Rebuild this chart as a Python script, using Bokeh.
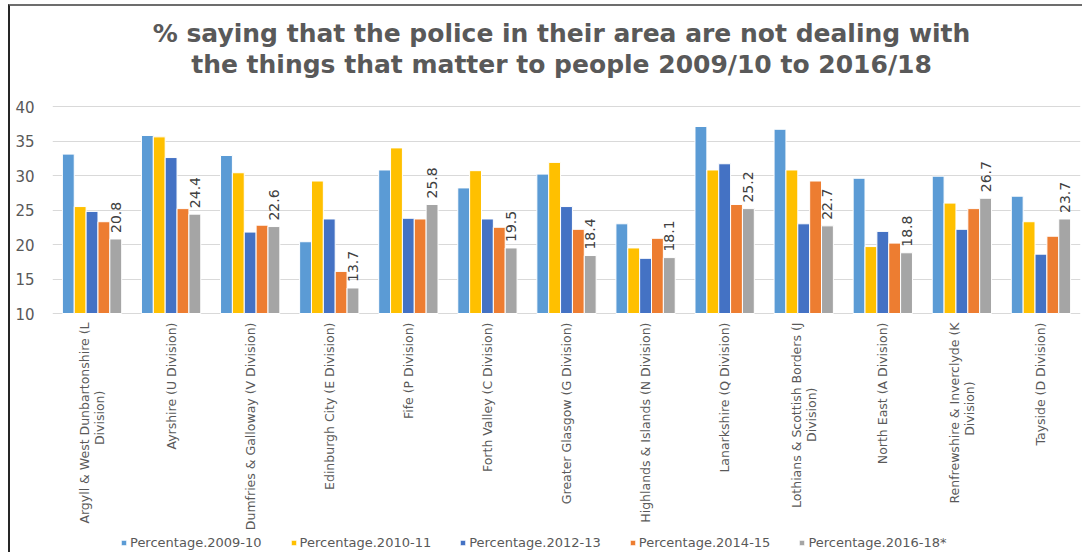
import math
from bokeh.plotting import figure
from bokeh.models import ColumnDataSource, FactorRange, Legend, LegendItem, FixedTicker, Range1d
from bokeh.transform import dodge
from bokeh.core.properties import value
from bokeh.embed import file_html
from bokeh.resources import INLINE

title_lines = ["% saying that the police in their area are not dealing with",
               "the things that matter to people 2009/10 to 2016/18"]
categories = [
    "Argyll & West Dunbartonshire (L\nDivision)",
    "Ayrshire (U Division)",
    "Dumfries & Galloway (V Division)",
    "Edinburgh City (E Division)",
    "Fife (P Division)",
    "Forth Valley (C Division)",
    "Greater Glasgow (G Division)",
    "Highlands & Islands (N Division)",
    "Lanarkshire (Q Division)",
    "Lothians & Scottish Borders (J\nDivision)",
    "North East (A Division)",
    "Renfrewshire & Inverclyde (K\nDivision)",
    "Tayside (D Division)",
]
series_names = ["Percentage.2009-10", "Percentage.2010-11", "Percentage.2012-13",
                "Percentage.2014-15", "Percentage.2016-18*"]
pct_2009_10 = [33.1, 35.8, 32.9, 20.4, 30.8, 28.2, 30.2, 23.0, 37.1, 36.7, 29.6, 29.9, 27.0]
pct_2010_11 = [25.5, 35.6, 30.4, 29.2, 34.0, 30.7, 31.9, 19.5, 30.8, 30.8, 19.7, 26.0, 23.3]
pct_2012_13 = [24.8, 32.6, 21.8, 23.7, 23.8, 23.7, 25.5, 18.0, 31.7, 23.0, 21.9, 22.2, 18.6]
pct_2014_15 = [23.3, 25.2, 22.8, 16.1, 23.7, 22.5, 22.2, 20.9, 25.8, 29.2, 20.2, 25.2, 21.2]
pct_2016_18 = [20.8, 24.4, 22.6, 13.7, 25.8, 19.5, 18.4, 18.1, 25.2, 22.7, 18.8, 26.7, 23.7]
y_ticks = [10, 15, 20, 25, 30, 35, 40]

colors = ["#5B9BD5", "#FFC000", "#4472C4", "#ED7D31", "#A5A5A5"]
cols = ["s0", "s1", "s2", "s3", "s4"]
all_series = [pct_2009_10, pct_2010_11, pct_2012_13, pct_2014_15, pct_2016_18]

data = {"cat": categories}
for c, s in zip(cols, all_series):
    data[c] = s
data["lbl"] = ["%.1f" % v for v in pct_2016_18]
source = ColumnDataSource(data)

# layout: the value axis (10..40) occupies 207 px; the frame is extended above
# and below so that the title, category labels and legend can sit inside it.
FRAME_H = 546
AXIS_PX = 207
TOP_PX = 100
ppu = AXIS_PX / (y_ticks[-1] - y_ticks[0])
y_lo = y_ticks[0] - (FRAME_H - TOP_PX - AXIS_PX) / ppu
y_hi = y_ticks[-1] + TOP_PX / ppu

p = figure(x_range=FactorRange(*categories), y_range=Range1d(y_lo, y_hi),
           frame_width=1028, frame_height=FRAME_H, output_backend="svg", toolbar_location=None,
           min_border_left=42, min_border_right=2, min_border_top=0, min_border_bottom=0)
p.styles = {"margin-left": "8px", "margin-top": "4px",
            "border-top": "2px solid #6d6d6d", "border-left": "2px solid #262626"}

offsets = [-0.3, -0.15, 0.0, 0.15, 0.3]
renderers = []
for c, col, off in zip(cols, colors, offsets):
    r = p.vbar(x=dodge("cat", off, range=p.x_range), top=c, bottom=y_ticks[0], width=0.15,
               source=source, fill_color=col, line_color="white", line_width=1)
    renderers.append(r)

# data labels on the last series
p.text(x=dodge("cat", 0.3, range=p.x_range), y="s4", text="lbl", source=source,
       angle=math.pi / 2, text_align="left", text_baseline="middle", y_offset=-6,
       text_font=value("DejaVu Sans"), text_font_size="14px", text_color="#404040")

# category labels (wrapped ones: first line anchored at the axis, second line centred on it)
LBL_FONT = 12.5
CHAR_PX = 6.15
LINE_PX = 15
single = [c for c in categories if "\n" not in c]
double = [c for c in categories if "\n" in c]
lbl_style = dict(angle=math.pi / 2, text_baseline="middle", text_font=value("DejaVu Sans"),
                 text_font_size="%.1fpx" % LBL_FONT, text_color="#595959")
p.text(x=single, y=[y_ticks[0]] * len(single), text=single, text_align="right",
       y_offset=9, **lbl_style)
for c in double:
    first, second = c.split("\n")
    p.text(x=[c], y=[y_ticks[0]], text=[first], text_align="right",
           y_offset=9, x_offset=-LINE_PX / 2, **lbl_style)
    p.text(x=[c], y=[y_ticks[0]], text=[second], text_align="center",
           y_offset=9 + CHAR_PX * len(first) / 2, x_offset=LINE_PX / 2, **lbl_style)

# title (two lines)
x_mid = len(categories) / 2
for line, off in zip(title_lines, [-73, -42]):
    p.text(x=[x_mid], y=[y_ticks[-1]], text=[line], text_align="center", text_baseline="middle",
           x_offset=-5, y_offset=off, text_font=value("DejaVu Sans"), text_font_size="25px",
           text_font_style="bold", text_color="#595959")

p.outline_line_color = None
p.xgrid.grid_line_color = None
p.ygrid.grid_line_color = "#D9D9D9"
p.ygrid.grid_line_width = 1
p.yaxis.ticker = FixedTicker(ticks=y_ticks)
p.yaxis.axis_line_color = None
p.yaxis.major_tick_line_color = None
p.yaxis.minor_tick_line_color = None
p.yaxis.major_label_text_font = "DejaVu Sans"
p.yaxis.major_label_text_font_size = "15px"
p.yaxis.major_label_text_color = "#595959"
p.yaxis.major_label_standoff = 12

p.xaxis.visible = False
p.x_range.range_padding = 0
p.x_range.group_padding = 0

legend = Legend(items=[LegendItem(label=n, renderers=[r]) for n, r in zip(series_names, renderers)],
                orientation="horizontal", location=(68, 2),
                label_text_font="DejaVu Sans", label_text_font_size="13px",
                label_text_color="#595959", glyph_width=7, glyph_height=7,
                label_standoff=3, spacing=28, padding=2, margin=0,
                border_line_color=None, background_fill_alpha=0)
p.add_layout(legend, "center")

open("out.html", "w").write(file_html(p, INLINE))
